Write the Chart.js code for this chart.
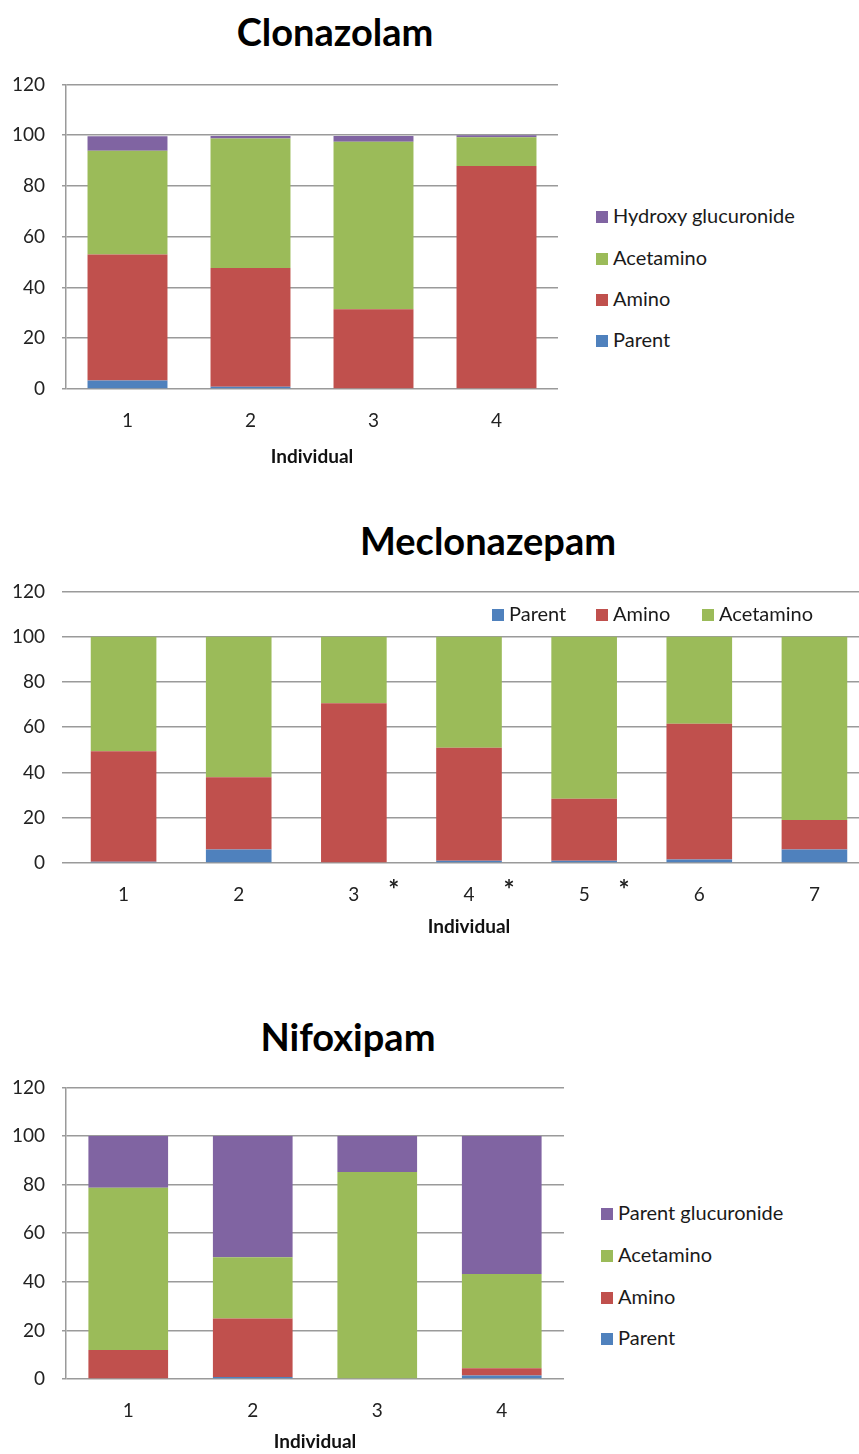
<!DOCTYPE html>
<html>
<head>
<meta charset="utf-8">
<script src="https://cdn.jsdelivr.net/npm/chart.js@4.4.1/dist/chart.umd.min.js"></script>
<style>
  body { margin: 0; width: 859px; height: 1454px; overflow: hidden; background: #fff; position: relative; font-family: Lato, 'Open Sans', sans-serif; }
  .box { position: absolute; left: 0; overflow: hidden; }
  .titulo { position: absolute; transform: translate(-50%, -50%); font-weight: bold; font-size: 38px; color: #000; white-space: nowrap; }
  .legenda { position: absolute; left: 0; top: 0; font-size: 20px; color: #1a1a1a; }
  .legenda .item { position: absolute; white-space: nowrap; transform: translateY(-50%); line-height: 22px; }
  .legenda .cor { display: inline-block; width: 12px; height: 12px; margin-right: 5px; vertical-align: 0px; }
</style>
</head>
<body>

<div class="titulo" style="left:335px; top:31px;">Clonazolam</div>
<div class="box" style="top:56px; width:558px; height:413px;"><canvas id="grafico-clonazolam" width="558" height="413"></canvas></div>
<div class="legenda" id="legenda-clonazolam"></div>

<div class="titulo" style="left:488px; top:540px;">Meclonazepam</div>
<div class="box" style="top:563px; width:859px; height:376px;"><canvas id="grafico-meclonazepam" width="872" height="376"></canvas></div>
<div class="legenda" id="legenda-meclonazepam"></div>

<div class="titulo" style="left:348px; top:1036px;">Nifoxipam</div>
<div class="box" style="top:1059px; width:564px; height:395px;"><canvas id="grafico-nifoxipam" width="564" height="395"></canvas></div>
<div class="legenda" id="legenda-nifoxipam"></div>

<script>
// Clonazolam (% de cada metabólito por indivíduo)
const clonaLabels = ['1', '2', '3', '4'];
const clonaParent = [3.3, 0.9, 0, 0];
const clonaAmino = [49.7, 46.8, 31.4, 87.9];
const clonaAcetamino = [40.9, 51.0, 66.0, 11.3];
const clonaHydroxyGluc = [5.7, 1.0, 2.3, 0.8];

// Meclonazepam
const meclLabels = ['1', '2', '3', '4', '5', '6', '7'];
const meclParent = [0.5, 6.0, 0, 1.0, 1.0, 1.5, 6.0];
const meclAmino = [48.9, 31.9, 70.6, 49.9, 27.4, 60.0, 13.0];
const meclAcetamino = [50.6, 62.1, 29.4, 49.1, 71.6, 38.5, 81.0];
const meclMarks = ['', '', '*', '*', '*', '', ''];

// Nifoxipam
const nifoLabels = ['1', '2', '3', '4'];
const nifoParent = [0, 0.8, 0, 1.4];
const nifoAmino = [11.9, 24.1, 0, 3.0];
const nifoAcetamino = [66.8, 25.2, 85.2, 38.8];
const nifoParentGluc = [21.3, 49.9, 14.8, 56.8];

const yTicks = [0, 20, 40, 60, 80, 100, 120];

// Paleta do Excel
const cores = {
    parent: '#4F81BD',
    amino: '#C0504D',
    acetamino: '#9BBB59',
    gluc: '#8064A2'
};

// Asteriscos ao lado dos indivíduos 3, 4 e 5
const asteriscos = {
    id: 'asteriscos',
    afterDraw(chart) {
        const ctx = chart.ctx;
        const x = chart.scales.x;
        ctx.save();
        ctx.font = 'bold 26px Lato';
        ctx.fillStyle = '#222';
        ctx.textAlign = 'center';
        ctx.textBaseline = 'alphabetic';
        meclMarks.forEach((m, i) => {
            if (m) ctx.fillText(m, x.getPixelForValue(i) + 40, chart.chartArea.bottom + 36);
        });
        ctx.restore();
    }
};

function criarGrafico(id, labels, series, layout) {
    const canvas = document.getElementById(id);
    return new Chart(canvas, {
        type: 'bar',
        data: {
            labels: labels,
            datasets: series.map(s => ({
                label: s.label,
                data: s.data,
                backgroundColor: s.color,
                borderWidth: 0,
                barPercentage: layout.barPct,
                categoryPercentage: 1
            }))
        },
        options: {
            responsive: false,
            animation: false,
            layout: { padding: { top: layout.padTop, right: 0, bottom: 0, left: 0 } },
            plugins: {
                legend: { display: false },
                tooltip: { enabled: false }
            },
            scales: {
                x: {
                    stacked: true,
                    grid: { display: false },
                    border: { display: false },
                    ticks: { padding: 12, color: '#222', font: { size: 19, family: 'Lato' } },
                    title: {
                        display: true,
                        text: 'Individual',
                        color: '#111',
                        font: { size: 19, weight: 'bold', family: 'Lato' },
                        padding: { top: 0, bottom: 1 }
                    },
                    afterFit: s => { s.height = layout.xHeight; }
                },
                y: {
                    stacked: true,
                    min: 0,
                    max: 120,
                    afterBuildTicks: s => { s.ticks = yTicks.map(v => ({ value: v })); },
                    grid: { color: '#9a9a9a', lineWidth: 1.5, tickLength: 4 },
                    border: { display: layout.yBorder, color: '#9a9a9a', width: 1.5 },
                    ticks: { padding: 17, color: '#222', font: { size: 19, family: 'Lato' } },
                    afterFit: s => { s.width = 66; }
                }
            }
        },
        plugins: layout.plugins || []
    });
}

// Legenda em HTML, a partir das séries
function criarLegenda(id, series, posicoes) {
    const el = document.getElementById(id);
    series.forEach((s, i) => {
        const item = document.createElement('div');
        item.className = 'item';
        item.style.left = posicoes[i][0] + 'px';
        item.style.top = posicoes[i][1] + 'px';
        item.innerHTML = '<span class="cor" style="background:' + s.color + '"></span>' + s.label;
        el.appendChild(item);
    });
}

const seriesClona = [
    { label: 'Parent', data: clonaParent, color: cores.parent },
    { label: 'Amino', data: clonaAmino, color: cores.amino },
    { label: 'Acetamino', data: clonaAcetamino, color: cores.acetamino },
    { label: 'Hydroxy glucuronide', data: clonaHydroxyGluc, color: cores.gluc }
];
const seriesMecl = [
    { label: 'Parent', data: meclParent, color: cores.parent },
    { label: 'Amino', data: meclAmino, color: cores.amino },
    { label: 'Acetamino', data: meclAcetamino, color: cores.acetamino }
];
const seriesNifo = [
    { label: 'Parent', data: nifoParent, color: cores.parent },
    { label: 'Amino', data: nifoAmino, color: cores.amino },
    { label: 'Acetamino', data: nifoAcetamino, color: cores.acetamino },
    { label: 'Parent glucuronide', data: nifoParentGluc, color: cores.gluc }
];

criarGrafico('grafico-clonazolam', clonaLabels, seriesClona, { barPct: 0.65, padTop: 20, xHeight: 80, yBorder: true });
criarGrafico('grafico-meclonazepam', meclLabels, seriesMecl, { barPct: 0.57, padTop: 21, xHeight: 76, yBorder: false, plugins: [asteriscos] });
criarGrafico('grafico-nifoxipam', nifoLabels, seriesNifo, { barPct: 0.64, padTop: 21, xHeight: 75, yBorder: true });

// Legendas verticais com a ordem invertida (topo = último da pilha)
criarLegenda('legenda-clonazolam', [...seriesClona].reverse(), [[596, 215], [596, 257], [596, 298], [596, 339]]);
criarLegenda('legenda-meclonazepam', seriesMecl, [[492, 613], [596, 613], [702, 613]]);
criarLegenda('legenda-nifoxipam', [...seriesNifo].reverse(), [[601, 1212], [601, 1254], [601, 1296], [601, 1337]]);
</script>
</body>
</html>
